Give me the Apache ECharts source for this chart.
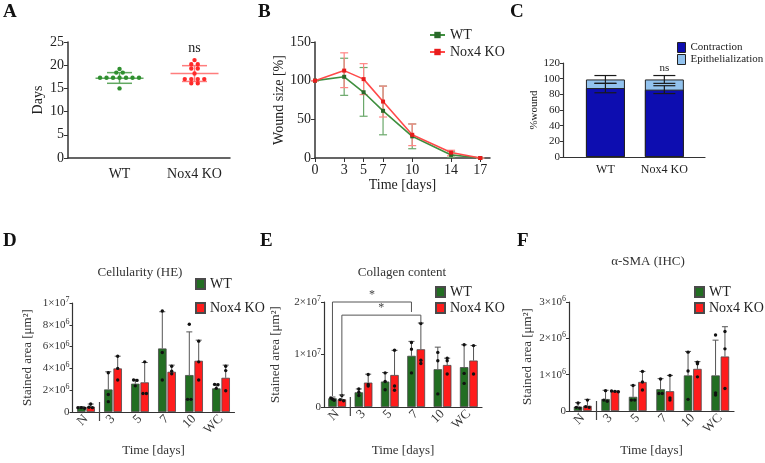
<!DOCTYPE html>
<html><head><meta charset="utf-8">
<script src="https://cdn.jsdelivr.net/npm/echarts@6/dist/echarts.min.js"></script>
<style>html,body{margin:0;padding:0;background:#fff}#c{width:765px;height:463px}</style>
</head><body><div id="c"></div>
<script>
// ---------- Panel A ----------
const aCategories = ['WT', 'Nox4 KO'];
const aWT = [19.2, 18.4, 18.4, 17.3, 17.3, 17.3, 17.3, 17.3, 17.3, 17.3, 15.0];
const aKO = [21.1, 20.2, 20.2, 19.3, 19.3, 18.2, 17.0, 17.0, 17.0, 17.0, 16.1, 16.1];
const aMean = [17.2, 18.2];
const aSDLow = [16.1, 16.5];
const aSDHigh = [18.4, 19.9];
const aSignif = 'ns';
// ---------- Panel B ----------
const bDays = [0, 3, 5, 7, 10, 14, 17];
const bWT = [100, 105, 85, 61, 28, 4, 0];
const bWTLow = [100, 81, 54, 30, 12, 1, 0];
const bWTHigh = [100, 129, 117, 93, 44, 8, 0];
const bKO = [100, 113, 102, 73, 30, 7, 0];
const bKOLow = [100, 91, 82, 53, 16, 3, 0];
const bKOHigh = [100, 136, 122, 93, 44, 10, 0];
// ---------- Panel C ----------
const cCategories = ['WT', 'Nox4 KO'];
const cContraction = [88, 86];
const cEpithelialization = [11, 13];
const cContractionSD = [6, 5];
const cTotalSD = [5, 5];
// ---------- Panels D-F ----------
const timeCategories = ['N', '3', '5', '7', '10', 'WC'];
const dWT = [0.43e6, 2.07e6, 2.6e6, 5.83e6, 3.39e6, 2.17e6];
const dWTUpper = [0.49e6, 3.69e6, 2.99e6, 9.2e6, 7.35e6, 2.56e6];
const dKO = [0.49e6, 4.0e6, 2.72e6, 3.69e6, 4.7e6, 3.14e6];
const dKOUpper = [0.73e6, 5.12e6, 4.54e6, 4.3e6, 6.59e6, 4.3e6];
const dWTPoints = [[0.4e6, 0.4e6, 0.35e6], [3.6e6, 1.6e6, 0.95e6], [2.93e6, 2.9e6, 2.4e6], [9.27e6, 5.46e6, 2.93e6], [8.05e6, 1.16e6, 1.16e6], [2.53e6, 2.5e6, 2.17e6]];
const dKOPoints = [[0.73e6, 0.43e6, 0.4e6], [5.12e6, 4.0e6, 2.93e6], [4.6e6, 1.7e6, 1.7e6], [4.2e6, 3.75e6, 3.5e6], [6.5e6, 4.6e6, 2.93e6], [4.2e6, 3.8e6, 1.95e6]];

const eWT = [1.66e6, 2.8e6, 4.85e6, 9.75e6, 7.2e6, 7.6e6];
const eWTUpper = [1.9e6, 3.44e6, 6.56e6, 12.5e6, 11.4e6, 11.85e6];
const eKO = [1.47e6, 4.65e6, 6.1e6, 11.0e6, 8.0e6, 8.85e6];
const eKOUpper = [2.3e6, 6.25e6, 10.8e6, 16.0e6, 9.3e6, 11.7e6];
const eWTPoints = [[1.7e6, 1.5e6, 1.3e6], [3.44e6, 2.8e6, 2.2e6], [6.5e6, 4.85e6, 3.3e6], [12.3e6, 11.0e6, 6.5e6], [10.4e6, 8.8e6, 2.5e6], [11.85e6, 6.4e6, 4.5e6]];
const eKOPoints = [[2.2e6, 1.4e6, 1.2e6], [6.2e6, 4.3e6, 4.0e6], [10.8e6, 4.0e6, 3.2e6], [15.9e6, 8.9e6, 8.3e6], [9.3e6, 8.8e6, 6.3e6], [11.7e6, 6.3e6]];
// brackets: [fromCategory, toCategory, top, fromEnd, toEnd, group(0=WT,1=KO)]
const eBrackets = [[0, 3, 2.0e7, 2.1e6, 1.81e7, 0], [0, 3, 1.75e7, 2.1e6, 1.6e7, 1]];
const eBracketLabel = '*';

const fWT = [0.12e6, 0.33e6, 0.39e6, 0.6e6, 0.98e6, 0.98e6];
const fWTUpper = [0.23e6, 0.57e6, 0.71e6, 0.89e6, 1.64e6, 1.95e6];
const fKO = [0.145e6, 0.545e6, 0.8e6, 0.545e6, 1.16e6, 1.5e6];
const fKOUpper = [0.32e6, 0.55e6, 1.09e6, 0.98e6, 1.36e6, 2.32e6];
const fWTPoints = [[0.22e6, 0.1e6, 0.08e6], [0.56e6, 0.3e6, 0.27e6], [0.7e6, 0.3e6, 0.3e6], [0.88e6, 0.48e6, 0.48e6], [1.62e6, 1.1e6, 0.32e6], [2.09e6, 0.5e6, 0.44e6]];
const fKOPoints = [[0.3e6, 0.12e6, 0.1e6], [0.55e6, 0.54e6, 0.53e6], [1.09e6, 0.8e6, 0.58e6], [0.98e6, 0.36e6, 0.3e6], [1.34e6, 1.3e6, 0.94e6], [2.19e6, 1.71e6, 0.62e6]];

// ---------- styles ----------
const SERIF = '"Liberation Serif", "Times New Roman", serif';
const AX = '#333';
const GREEN_BAR = '#226e22', RED_BAR = '#ff1c1c';
const A_DOT = ['#2f8f2f', '#ff2a2a'], A_LINE = ['#62a862', '#ff7d7d'];
const B_GREEN = '#3f8f3f', B_RED = '#ff4a4a', B_GREEN_ERR = '#6aa86a', B_RED_ERR = '#ff8585';
const C_DARK = '#0d0db0', C_LIGHT = '#92c2ee';
const BAR_W = 8.5, OFF = 4.7;

const chart = echarts.init(document.getElementById('c'), null, {renderer: 'canvas'});

function sci(v) {
  if (v === 0) return '{m|0}';
  const e = Math.floor(Math.log10(v) + 1e-9);
  const m = Math.round(v / Math.pow(10, e));
  return '{m|' + m + '×10}{s|' + e + '}';
}
const sciRich = {
  m: {fontSize: 11, fontFamily: SERIF, color: '#333', lineHeight: 14},
  s: {fontSize: 8, fontFamily: SERIF, color: '#333', verticalAlign: 'top', lineHeight: 9}
};

function axisLine(w) { return {show: true, onZero: false, lineStyle: {color: AX, width: w || 1.3}}; }

const grids = [
  {left: 68, top: 42, width: 162, height: 116},
  {left: 315, top: 42, width: 175, height: 116},
  {left: 563, top: 63, width: 142, height: 94},
  {left: 72.5, top: 303, width: 162, height: 109},
  {left: 324, top: 302, width: 158, height: 105},
  {left: 569, top: 302, width: 165, height: 109}
].map(g => Object.assign({containLabel: false, outerBoundsMode: 'none'}, g));

const xAxes = [
  {gridIndex: 0, type: 'value', min: -0.687, max: 1.473, splitLine: {show: false}, axisLine: axisLine(1.5),
   axisTick: {show: false}, axisLabel: {customValues: [0, 1], formatter: v => aCategories[Math.round(v)], fontSize: 14, color: '#222', margin: 9}},
  {gridIndex: 1, type: 'value', min: 0, max: 18, splitLine: {show: false}, axisLine: axisLine(1.5),
   axisTick: {customValues: bDays, length: 4, lineStyle: {color: AX}}, axisLabel: {customValues: bDays, fontSize: 14, color: '#222', margin: 5},
   name: 'Time [days]', nameLocation: 'middle', nameGap: 20, nameTextStyle: {fontSize: 14, color: '#222', fontFamily: SERIF}},
  {gridIndex: 2, type: 'value', min: -0.72, max: 1.69, splitLine: {show: false}, axisLine: axisLine(1.2),
   axisTick: {show: false}, axisLabel: {customValues: [0, 1], formatter: v => cCategories[Math.round(v)], fontSize: 12, color: '#222', margin: 7}},
];
[3, 4, 5].forEach(gi => xAxes.push({
  gridIndex: gi, type: 'category', data: timeCategories, axisLine: axisLine(1.2), axisTick: {show: false},
  axisLabel: {rotate: 45, fontSize: 13, color: '#333', margin: 5, interval: 0},
  name: 'Time [days]', nameLocation: 'middle', nameGap: gi === 4 ? 37 : (gi === 5 ? 33 : 32),
  nameTextStyle: {fontSize: 13, color: '#333', fontFamily: SERIF}
}));

const yAxes = [
  {gridIndex: 0, type: 'value', min: 0, max: 25, interval: 5, splitLine: {show: false}, axisLine: axisLine(1.5),
   axisTick: {show: true, length: 4, lineStyle: {color: AX}}, axisLabel: {fontSize: 14, color: '#222', margin: 4},
   name: 'Days', nameLocation: 'middle', nameGap: 23, nameTextStyle: {fontSize: 14, color: '#222', fontFamily: SERIF}},
  {gridIndex: 1, type: 'value', min: 0, max: 150, interval: 50, splitLine: {show: false}, axisLine: axisLine(1.5),
   axisTick: {show: true, length: 4, lineStyle: {color: AX}}, axisLabel: {fontSize: 14, color: '#222', margin: 4},
   name: 'Wound size [%]', nameLocation: 'middle', nameGap: 17, nameTextStyle: {fontSize: 14, color: '#222', fontFamily: SERIF}},
  {gridIndex: 2, type: 'value', min: 0, max: 120, interval: 20, splitLine: {show: false}, axisLine: axisLine(1.2),
   axisTick: {show: true, length: 3, lineStyle: {color: AX}}, axisLabel: {fontSize: 11, color: '#222', margin: 3},
   name: '%wound', nameLocation: 'middle', nameGap: 16, nameTextStyle: {fontSize: 11, color: '#222', fontFamily: SERIF}},
  {gridIndex: 3, type: 'value', min: 0, max: 1e7, interval: 2e6},
  {gridIndex: 4, type: 'value', min: 0, max: 2e7, interval: 1e7},
  {gridIndex: 5, type: 'value', min: 0, max: 3e6, interval: 1e6}
];
[3, 4, 5].forEach(gi => Object.assign(yAxes[gi], {
  splitLine: {show: false}, axisLine: axisLine(1.2), axisTick: {show: true, length: 3, lineStyle: {color: AX}},
  axisLabel: {formatter: sci, rich: sciRich, margin: 3},
  name: 'Stained area [μm²]', nameLocation: 'middle', nameGap: gi === 3 ? 38 : (gi === 4 ? 42 : 35),
  nameTextStyle: {fontSize: 13, color: '#333', fontFamily: SERIF}
}));

const series = [];

// ---- A ----
series.push({
  type: 'custom', xAxisIndex: 0, yAxisIndex: 0, silent: true, z: 2,
  data: aMean.map((m, i) => [i, m, aSDLow[i], aSDHigh[i]]),
  renderItem: (p, api) => {
    const i = api.value(0);
    const c = api.coord([i, api.value(1)]), lo = api.coord([i, api.value(2)]), hi = api.coord([i, api.value(3)]);
    const st = {stroke: A_LINE[i], lineWidth: 1.5};
    return {type: 'group', children: [
      {type: 'line', shape: {x1: c[0] - 24, y1: c[1], x2: c[0] + 24, y2: c[1]}, style: st},
      {type: 'line', shape: {x1: lo[0] - 12.5, y1: lo[1], x2: lo[0] + 12.5, y2: lo[1]}, style: st},
      {type: 'line', shape: {x1: hi[0] - 12.5, y1: hi[1], x2: hi[0] + 12.5, y2: hi[1]}, style: st},
      {type: 'line', shape: {x1: lo[0], y1: lo[1], x2: hi[0], y2: hi[1]}, style: st}
    ]};
  }
});
function swarm(vals, cat) {
  const out = [];
  vals.forEach((v, k) => {
    const same = vals.map((w, j) => [w, j]).filter(q => q[0] === v);
    const n = same.length, rank = same.findIndex(q => q[1] === k);
    out.push([cat, v, (rank - (n - 1) / 2) * 6.5]);
  });
  return out;
}
series.push({
  type: 'custom', xAxisIndex: 0, yAxisIndex: 0, silent: true, z: 3,
  data: swarm(aWT, 0).concat(swarm(aKO, 1)),
  renderItem: (p, api) => {
    const c = api.coord([api.value(0), api.value(1)]);
    return {type: 'circle', shape: {cx: c[0] + api.value(2), cy: c[1], r: 2.2}, style: {fill: A_DOT[api.value(0)]}};
  }
});
series.push({
  type: 'custom', xAxisIndex: 0, yAxisIndex: 0, silent: true,
  data: [[1, 23.7]],
  renderItem: (p, api) => {
    const c = api.coord([api.value(0), api.value(1)]);
    return {type: 'text', x: c[0], y: c[1], style: {text: aSignif, fontSize: 14, fontFamily: SERIF, fill: '#222', align: 'center', verticalAlign: 'middle'}};
  }
});

// ---- B ----
function lineErr(xi, yi, xs, lo, hi, color, cap) {
  return {
    type: 'custom', xAxisIndex: xi, yAxisIndex: yi, silent: true, z: 1,
    data: xs.map((x, i) => [x, lo[i], hi[i]]),
    renderItem: (p, api) => {
      const a = api.coord([api.value(0), api.value(1)]), b = api.coord([api.value(0), api.value(2)]);
      const st = {stroke: color, lineWidth: 1.2};
      return {type: 'group', children: [
        {type: 'line', shape: {x1: a[0], y1: a[1], x2: b[0], y2: b[1]}, style: st},
        {type: 'line', shape: {x1: a[0] - cap, y1: a[1], x2: a[0] + cap, y2: a[1]}, style: st},
        {type: 'line', shape: {x1: b[0] - cap, y1: b[1], x2: b[0] + cap, y2: b[1]}, style: st}
      ]};
    }
  };
}
series.push(lineErr(1, 1, bDays, bWTLow, bWTHigh, B_GREEN_ERR, 4));
series.push(lineErr(1, 1, bDays, bKOLow, bKOHigh, B_RED_ERR, 4));
series.push({type: 'line', name: 'WT', xAxisIndex: 1, yAxisIndex: 1, data: bDays.map((d, i) => [d, bWT[i]]),
  symbol: 'rect', symbolSize: 4, lineStyle: {color: B_GREEN, width: 1.6}, itemStyle: {color: '#2a6a2a'}, z: 3});
series.push({type: 'line', name: 'Nox4 KO', xAxisIndex: 1, yAxisIndex: 1, data: bDays.map((d, i) => [d, bKO[i]]),
  symbol: 'rect', symbolSize: 4, lineStyle: {color: B_RED, width: 1.6}, itemStyle: {color: '#e81c1c'}, z: 4});

// ---- C ----
series.push({type: 'bar', name: 'Epithelialization', xAxisIndex: 2, yAxisIndex: 2, barWidth: 39, barGap: '-100%',
  data: cContraction.map((v, i) => [i, v + cEpithelialization[i]]),
  itemStyle: {color: C_LIGHT, borderColor: '#222', borderWidth: 1}, z: 2});
series.push({type: 'bar', name: 'Contraction', xAxisIndex: 2, yAxisIndex: 2, barWidth: 39, barGap: '-100%',
  data: cContraction.map((v, i) => [i, v]),
  itemStyle: {color: C_DARK, borderColor: '#222', borderWidth: 1}, z: 3});
series.push(lineErr(2, 2, [0, 1], cContraction.map((v, i) => v - cContractionSD[i]), cContraction.map((v, i) => v + cContractionSD[i]), '#1a1a1a', 11));
series.push(lineErr(2, 2, [0, 1], cContraction.map((v, i) => v + cEpithelialization[i] - cTotalSD[i]), cContraction.map((v, i) => v + cEpithelialization[i] + cTotalSD[i]), '#1a1a1a', 11));
series[series.length - 1].z = 5; series[series.length - 2].z = 5;
series.push({
  type: 'custom', xAxisIndex: 2, yAxisIndex: 2, silent: true, data: [[1, 113]],
  renderItem: (p, api) => {
    const c = api.coord([api.value(0), api.value(1)]);
    return {type: 'text', x: c[0], y: c[1], style: {text: 'ns', fontSize: 11, fontFamily: SERIF, fill: '#222', align: 'center', verticalAlign: 'middle'}};
  }
});

// ---- D/E/F ----
function barPanel(gi, key, wt, wtUp, ko, koUp, wtPts, koPts, ymax) {
  series.push({type: 'bar', name: 'WT|' + key, xAxisIndex: gi, yAxisIndex: gi, data: wt, barWidth: BAR_W, barGap: '10%',
    itemStyle: {color: GREEN_BAR, borderColor: '#4a4a4a', borderWidth: 0.8}, z: 2});
  series.push({type: 'bar', name: 'Nox4 KO|' + key, xAxisIndex: gi, yAxisIndex: gi, data: ko, barWidth: BAR_W, barGap: '10%',
    itemStyle: {color: RED_BAR, borderColor: '#4a4a4a', borderWidth: 0.8}, z: 2});
  [[wt, wtUp, -OFF], [ko, koUp, OFF]].forEach(([m, u, dx]) => series.push({
    type: 'custom', xAxisIndex: gi, yAxisIndex: gi, silent: true, z: 3,
    data: m.map((v, i) => [i, v, u[i]]),
    renderItem: (p, api) => {
      const a = api.coord([api.value(0), api.value(1)]), b = api.coord([api.value(0), api.value(2)]);
      const x = a[0] + dx, st = {stroke: '#555', lineWidth: 1};
      return {type: 'group', children: [
        {type: 'line', shape: {x1: x, y1: a[1], x2: x, y2: b[1]}, style: st},
        {type: 'line', shape: {x1: x - 3, y1: b[1], x2: x + 3, y2: b[1]}, style: st}
      ]};
    }
  }));
  [[wtPts, -OFF], [koPts, OFF]].forEach(([pts, dx]) => {
    const data = [];
    pts.forEach((grp, i) => grp.forEach((v, k) => {
      const close = grp.map((w, j) => [w, j]).filter(q => Math.abs(q[0] - v) < ymax * 0.012);
      const n = close.length, rank = close.findIndex(q => q[1] === k);
      data.push([i, v, (rank - (n - 1) / 2) * 3.4]);
    }));
    series.push({
      type: 'custom', xAxisIndex: gi, yAxisIndex: gi, silent: true, z: 4, data,
      renderItem: (p, api) => {
        const c = api.coord([api.value(0), api.value(1)]);
        return {type: 'circle', shape: {cx: c[0] + dx + api.value(2), cy: c[1], r: 1.7}, style: {fill: '#111'}};
      }
    });
  });
  series.push({
    type: 'custom', xAxisIndex: gi, yAxisIndex: gi, silent: true, z: 4, data: [[0, 0]],
    renderItem: (p, api) => {
      const c = api.coord([0, 0]); const band = api.size([1, 0])[0];
      const x = c[0] + band / 2;
      return {type: 'line', shape: {x1: x, y1: c[1] - 10, x2: x, y2: c[1] + 9}, style: {stroke: '#444', lineWidth: 1.2}};
    }
  });
}
barPanel(3, 'D', dWT, dWTUpper, dKO, dKOUpper, dWTPoints, dKOPoints, 1e7);
barPanel(4, 'E', eWT, eWTUpper, eKO, eKOUpper, eWTPoints, eKOPoints, 2e7);
barPanel(5, 'F', fWT, fWTUpper, fKO, fKOUpper, fWTPoints, fKOPoints, 3e6);

series.push({
  type: 'custom', xAxisIndex: 4, yAxisIndex: 4, silent: true, z: 5, data: eBrackets,
  renderItem: (p, api) => {
    const side = api.value(5) ? OFF : -OFF;
    const t1 = api.coord([api.value(0), api.value(2)]), t2 = api.coord([api.value(1), api.value(2)]);
    const y1 = api.coord([api.value(0), api.value(3)])[1], y2 = api.coord([api.value(1), api.value(4)])[1];
    const x1 = t1[0] + side, x2 = t2[0] + side, top = t1[1];
    return {type: 'group', children: [
      {type: 'polyline', shape: {points: [[x1, y1], [x1, top], [x2, top], [x2, y2]]}, style: {stroke: '#555', lineWidth: 1, fill: null}},
      {type: 'text', x: (x1 + x2) / 2, y: top - 1, style: {text: eBracketLabel, fontSize: 12, fontFamily: SERIF, fill: '#444', align: 'center', verticalAlign: 'bottom'}}
    ]};
  }
});

const LETTER = {fontFamily: SERIF, fontWeight: 'bold', fontSize: 19, color: '#111'};
const PTITLE = {fontFamily: SERIF, fontWeight: 'normal', fontSize: 13, color: '#333'};
const legendText = {fontFamily: SERIF, fontSize: 14, color: '#222'};
const legendFmt = n => n.split('|')[0];

const option = {
  animation: false,
  backgroundColor: '#fff',
  textStyle: {fontFamily: SERIF},
  title: [
    {text: 'A', left: 3, top: 3, padding: 0, textStyle: LETTER},
    {text: 'B', left: 258, top: 3, padding: 0, textStyle: LETTER},
    {text: 'C', left: 510, top: 3, padding: 0, textStyle: LETTER},
    {text: 'D', left: 3, top: 232, padding: 0, textStyle: LETTER},
    {text: 'E', left: 260, top: 232, padding: 0, textStyle: LETTER},
    {text: 'F', left: 517, top: 232, padding: 0, textStyle: LETTER},
    {text: 'Cellularity (HE)', left: 140, top: 266, padding: 0, textAlign: 'center', textStyle: PTITLE},
    {text: 'Collagen content', left: 402, top: 266, padding: 0, textAlign: 'center', textStyle: PTITLE},
    {text: 'α-SMA (IHC)', left: 648, top: 255, padding: 0, textAlign: 'center', textStyle: PTITLE}
  ],
  legend: [
    {data: ['WT', 'Nox4 KO'], orient: 'vertical', left: 429, top: 28, padding: 0, itemGap: 3, itemWidth: 15, itemHeight: 8, textStyle: legendText},
    {data: ['Contraction', 'Epithelialization'], orient: 'vertical', left: 677, top: 42, padding: 0, itemGap: 1, itemWidth: 8, itemHeight: 10, icon: 'rect', itemStyle: {borderColor: '#222', borderWidth: 1}, textStyle: {fontFamily: SERIF, fontSize: 11, color: '#222'}},
    {data: ['WT|D', 'Nox4 KO|D'], formatter: legendFmt, orient: 'vertical', left: 195, top: 277, padding: 0, itemGap: 10, itemWidth: 9, itemHeight: 10, icon: 'rect', textStyle: legendText},
    {data: ['WT|E', 'Nox4 KO|E'], formatter: legendFmt, orient: 'vertical', left: 435, top: 285, padding: 0, itemGap: 2, itemWidth: 9, itemHeight: 10, icon: 'rect', textStyle: legendText},
    {data: ['WT|F', 'Nox4 KO|F'], formatter: legendFmt, orient: 'vertical', left: 694, top: 285, padding: 0, itemGap: 2, itemWidth: 9, itemHeight: 10, icon: 'rect', textStyle: legendText}
  ],
  grid: grids,
  xAxis: xAxes,
  yAxis: yAxes,
  series
};
chart.setOption(option);
</script>
</body></html>
